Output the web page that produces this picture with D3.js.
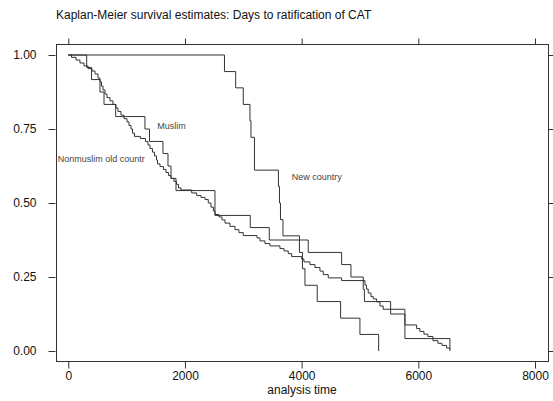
<!DOCTYPE html>
<html>
<head>
<meta charset="utf-8">
<script src="https://cdn.jsdelivr.net/npm/d3@7"></script>
<style>
body { margin: 0; background: #fff; }
svg { font-family: "Liberation Sans", Arial, sans-serif; }
</style>
</head>
<body>
<div id="chart"></div>
<script>
var xTicks = [0, 2000, 4000, 6000, 8000];
var yTicks = [0, 0.25, 0.5, 0.75, 1];

// step points: time in days, survival after the step
var muslimTime = [0, 315, 398, 543, 612, 812, 1314, 1392, 1623, 1709, 1760, 1846, 2514, 3119, 3445, 4113, 4685, 4845, 5056, 5076, 5525, 5770, 6541];
var muslimSurv = [1, .958, .917, .875, .833, .792, .750, .708, .667, .625, .583, .542, .458, .417, .375, .333, .292, .250, .208, .167, .125, .042, 0];

var newTime = [0, 2677, 2869, 2999, 3114, 3131, 3191, 3602, 3620, 3637, 3680, 3962, 4014, 4057, 4267, 4668, 4999, 5320];
var newSurv = [1, .944, .889, .833, .778, .722, .611, .556, .500, .444, .389, .333, .278, .222, .167, .111, .056, 0];

var oldTime = [0, 55, 132, 200, 269, 338, 406, 458, 509, 543, 569, 595, 629, 663, 715, 766, 817, 852, 903, 955,
	1006, 1040, 1075, 1100, 1135, 1237, 1323, 1366, 1400, 1443, 1477, 1512, 1529, 1572, 1632, 1674, 1717, 1760, 1811, 1854,
	1889, 1931, 2115, 2201, 2274, 2343, 2399, 2446, 2488, 2514, 2583, 2634, 2686, 2771, 2857, 2925, 2999, 3234, 3285, 3371,
	3457, 3628, 3697, 3770, 3829, 4000, 4039, 4142, 4228, 4314, 4370, 4456, 4686, 5085, 5111, 5141, 5188, 5227, 5285, 5342,
	5398, 5770, 5971, 6027, 6096, 6164, 6250, 6336, 6405, 6485, 6541];
var oldSurv = [1, .992, .983, .973, .963, .954, .946, .936, .922, .909, .895, .882, .868, .856, .845, .833, .821, .809, .797, .785,
	.774, .762, .750, .736, .725, .718, .708, .696, .684, .672, .659, .645, .632, .623, .613, .603, .593, .583, .573, .563,
	.551, .544, .534, .525, .519, .512, .500, .486, .473, .461, .453, .443, .432, .421, .410, .400, .390, .382, .372, .363,
	.355, .346, .338, .329, .319, .311, .301, .292, .282, .270, .258, .247, .238, .223, .209, .196, .184, .176, .166, .152,
	.141, .088, .076, .066, .057, .049, .035, .026, .019, .010, .006];

var labels = [
	{ text: "Muslim", t: 1525, s: 0.75 },
	{ text: "Nonmuslim old countr", t: -180, s: 0.637 },
	{ text: "New country", t: 3830, s: 0.578 }
];

var width = 553, height = 401;
var box = { left: 56, right: 548, top: 44, bottom: 361 };

var x = d3.scaleLinear().domain([0, 8000]).range([68.3, 535]);
var y = d3.scaleLinear().domain([0, 1]).range([351, 55]);

var svg = d3.select("#chart")
	.append("svg")
	.attr("width", width)
	.attr("height", height);

svg.append("text")
	.attr("x", 56)
	.attr("y", 19)
	.attr("font-size", 12)
	.attr("fill", "#111")
	.text("Kaplan-Meier survival estimates: Days to ratification of CAT");

// plot region outline
svg.append("rect")
	.attr("x", box.left + 0.5)
	.attr("y", box.top + 0.5)
	.attr("width", box.right - box.left)
	.attr("height", box.bottom - box.top)
	.attr("fill", "none")
	.attr("stroke", "#333");

var yAxis = d3.axisLeft(y).tickValues(yTicks).tickFormat(d3.format(".2f")).tickSize(7).tickPadding(12);
var xAxis = d3.axisBottom(x).tickValues(xTicks).tickFormat(d3.format("d")).tickSize(7).tickPadding(3);

svg.append("g")
	.attr("transform", "translate(" + (box.left - 0.5) + ",0)")
	.call(yAxis);
svg.append("g")
	.attr("transform", "translate(0," + (box.bottom + 0.5) + ")")
	.call(xAxis);
svg.append("g")
	.attr("transform", "translate(" + (box.right + 0.5) + ",0)")
	.call(d3.axisRight(y).tickValues(yTicks).tickSize(6).tickFormat(""));
svg.append("g")
	.attr("transform", "translate(0," + (box.top + 0.5) + ")")
	.call(d3.axisTop(x).tickValues(xTicks).tickSize(6).tickFormat(""));

svg.selectAll(".domain").remove();
svg.selectAll(".tick line").attr("stroke", "#333");
svg.selectAll(".tick text")
	.attr("font-size", 12)
	.attr("font-family", "Liberation Sans, Arial, sans-serif")
	.attr("fill", "#111");

svg.append("text")
	.attr("x", (box.left + box.right) / 2)
	.attr("y", 394)
	.attr("text-anchor", "middle")
	.attr("font-size", 12)
	.attr("fill", "#111")
	.text("analysis time");

var step = d3.line()
	.x(function (d) { return x(d[0]); })
	.y(function (d) { return y(d[1]); })
	.curve(d3.curveStepAfter);

[[oldTime, oldSurv], [muslimTime, muslimSurv], [newTime, newSurv]].forEach(function (s) {
	svg.append("path")
		.attr("d", step(d3.zip(s[0], s[1])))
		.attr("fill", "none")
		.attr("stroke", "#333")
		.attr("stroke-width", 1);
});

svg.selectAll(".curve-label")
	.data(labels)
	.enter()
	.append("text")
	.attr("class", "curve-label")
	.attr("x", function (d) { return x(d.t); })
	.attr("y", function (d) { return y(d.s); })
	.attr("font-size", 9)
	.attr("fill", "#444")
	.text(function (d) { return d.text; });
</script>
</body>
</html>
